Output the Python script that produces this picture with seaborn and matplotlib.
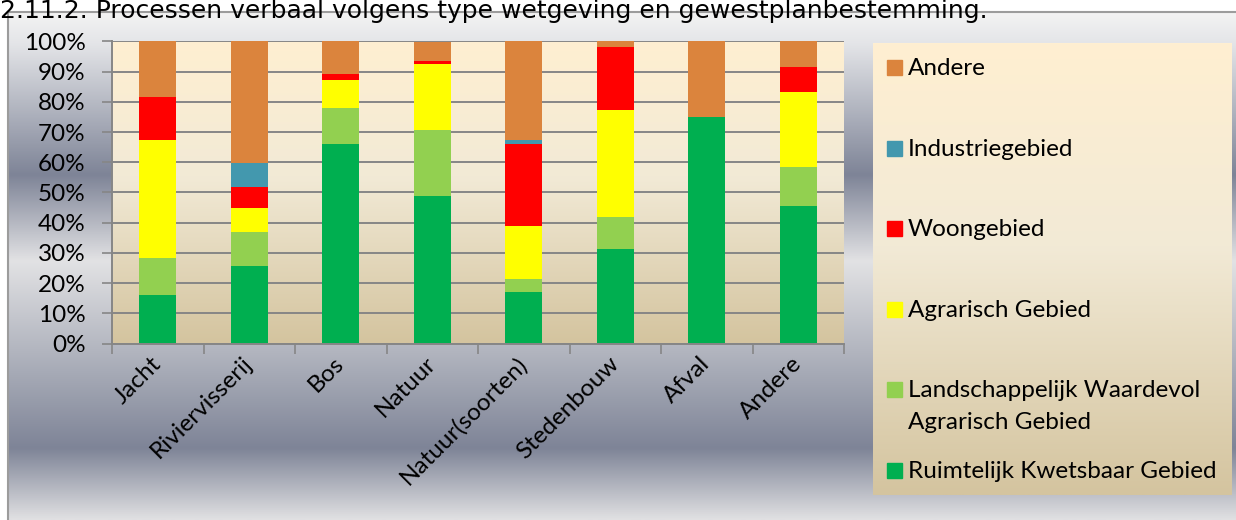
import numpy as np
import matplotlib
matplotlib.use("Agg")
import matplotlib.pyplot as plt
from matplotlib.colors import LinearSegmentedColormap
from matplotlib.patches import Rectangle
import seaborn as sns

TITLE = "2.11.2. Processen verbaal volgens type wetgeving en gewestplanbestemming."

categories = ["Jacht", "Riviervisserij", "Bos", "Natuur", "Natuur(soorten)",
              "Stedenbouw", "Afval", "Andere"]

# aandeel (%) per gewestplanbestemming, van onder naar boven gestapeld
ruimtelijk_kwetsbaar = [16.0, 25.7, 66.2, 49.0, 17.1, 31.4, 75.0, 45.6]
landschappelijk = [12.4, 11.2, 11.9, 21.6, 4.4, 10.6, 0.0, 12.7]
agrarisch = [38.9, 8.0, 9.3, 21.8, 17.5, 35.2, 0.0, 25.0]
woongebied = [14.4, 6.8, 2.0, 1.0, 27.2, 21.1, 0.0, 8.4]
industriegebied = [0.0, 8.0, 0.0, 0.0, 1.2, 0.0, 0.0, 0.0]
andere = [18.3, 40.3, 10.6, 6.6, 32.6, 1.7, 25.0, 8.3]

series_names = ["Ruimtelijk Kwetsbaar Gebied",
                "Landschappelijk Waardevol\nAgrarisch Gebied",
                "Agrarisch Gebied", "Woongebied", "Industriegebied", "Andere"]
series_values = [ruimtelijk_kwetsbaar, landschappelijk, agrarisch,
                 woongebied, industriegebied, andere]
series_colors = ["#00AF50", "#92D050", "#FFFF00", "#FF0000", "#4398AE", "#DB843D"]

yticks = list(range(0, 101, 10))
ytick_labels = ["{}%".format(v) for v in yticks]

W, H = 1236, 520
GRID = "#868686"
FS = 17.5


def fig_rect(x0, y0, x1, y1):
    """pixelvak (van boven links) -> figuurcoordinaten"""
    return [x0 / W, 1 - y1 / H, (x1 - x0) / W, (y1 - y0) / H]


sns.set_theme(style="white")
plt.rcParams['font.family'] = ['Lato', 'DejaVu Sans']

frame_cmap = LinearSegmentedColormap.from_list("frame", [
    (0.0, "#f3f3f3"), (0.06, "#e4e5e8"), (0.32, "#7e8497"), (0.49, "#e2e2e4"),
    (0.86, "#7e8497"), (1.0, "#e0e0e2")])
area_cmap = LinearSegmentedColormap.from_list("area", [
    (0.0, "#FFEFD1"), (0.45, "#F2EAD6"), (1.0, "#D4C49F")])
grad = np.linspace(0, 1, 256).reshape(-1, 1)

fig = plt.figure(figsize=(W / 100, H / 100), dpi=100)

# achtergrond van het grafiekvak
bg = fig.add_axes(fig_rect(8, 12, W, H), zorder=0)
bg.imshow(grad, cmap=frame_cmap, aspect='auto', extent=(0, 1, 0, 1))
bg.set_xticks([])
bg.set_yticks([])
for s in ['right', 'bottom']:
    bg.spines[s].set_visible(False)
for s in ['left', 'top']:
    bg.spines[s].set_color('#9c9c9c')
    bg.spines[s].set_linewidth(1.5)

fig.text(0.0, 1 - 18 / H, TITLE, family='DejaVu Sans', fontsize=18,
         color='black', va='baseline', ha='left', zorder=5)

# gestapelde staven
ax = fig.add_axes(fig_rect(112, 41.5, 844, 343.5), zorder=1)
stack = np.cumsum(np.array(series_values), axis=0)
for i in range(len(series_names) - 1, -1, -1):
    sns.barplot(x=categories, y=stack[i], color=series_colors[i], width=0.4,
                saturation=1, errorbar=None, linewidth=0, ax=ax, zorder=2)

ax.set_xlim(-0.5, len(categories) - 0.5)
ax.set_ylim(0, 100)
ax.imshow(grad, cmap=area_cmap, aspect='auto', zorder=0,
          extent=(-0.5, len(categories) - 0.5, 0, 100))
ax.set_xlim(-0.5, len(categories) - 0.5)
ax.set_ylim(0, 100)

ax.set_axisbelow(True)
ax.yaxis.grid(True, color=GRID, linewidth=1.4)
ax.xaxis.grid(False)
ax.set_yticks(yticks)
ax.set_yticklabels(ytick_labels)
ax.tick_params(axis='y', left=True, length=7, width=1.2, color=GRID, pad=12,
               labelsize=FS, labelcolor='black')
ax.set_xticks(range(len(categories)))
ax.set_xticklabels(categories, rotation=45, ha='right', va='center',
                   rotation_mode='anchor')
ax.set_xticks(np.arange(-0.5, len(categories)), minor=True)
ax.tick_params(axis='x', which='major', length=0, pad=12, labelsize=FS,
               labelcolor='black')
ax.tick_params(axis='x', which='minor', bottom=True, length=7, width=1.2,
               color=GRID)
ax.set_xlabel('')
ax.set_ylabel('')
for s in ['top', 'right']:
    ax.spines[s].set_visible(False)
for s in ['left', 'bottom']:
    ax.spines[s].set_color(GRID)
    ax.spines[s].set_linewidth(1.4)

# legende
lw_, lh_ = 359, 452
lg = fig.add_axes(fig_rect(873, 43, 873 + lw_, 43 + lh_), zorder=1)
lg.imshow(grad, cmap=area_cmap, aspect='auto', extent=(0, lw_, 0, lh_))
lg.set_xlim(0, lw_)
lg.set_ylim(0, lh_)
lg.axis('off')
for k, i in enumerate(range(len(series_names) - 1, -1, -1)):
    cy = 24.5 + k * 80.6
    lg.add_patch(Rectangle((14, lh_ - cy - 7.5), 15, 15, color=series_colors[i]))
    lg.text(35, lh_ - cy + 9.5, series_names[i], fontsize=FS, va='top',
            ha='left', color='black', linespacing=1.6)

fig.savefig("out.png", dpi=100)
